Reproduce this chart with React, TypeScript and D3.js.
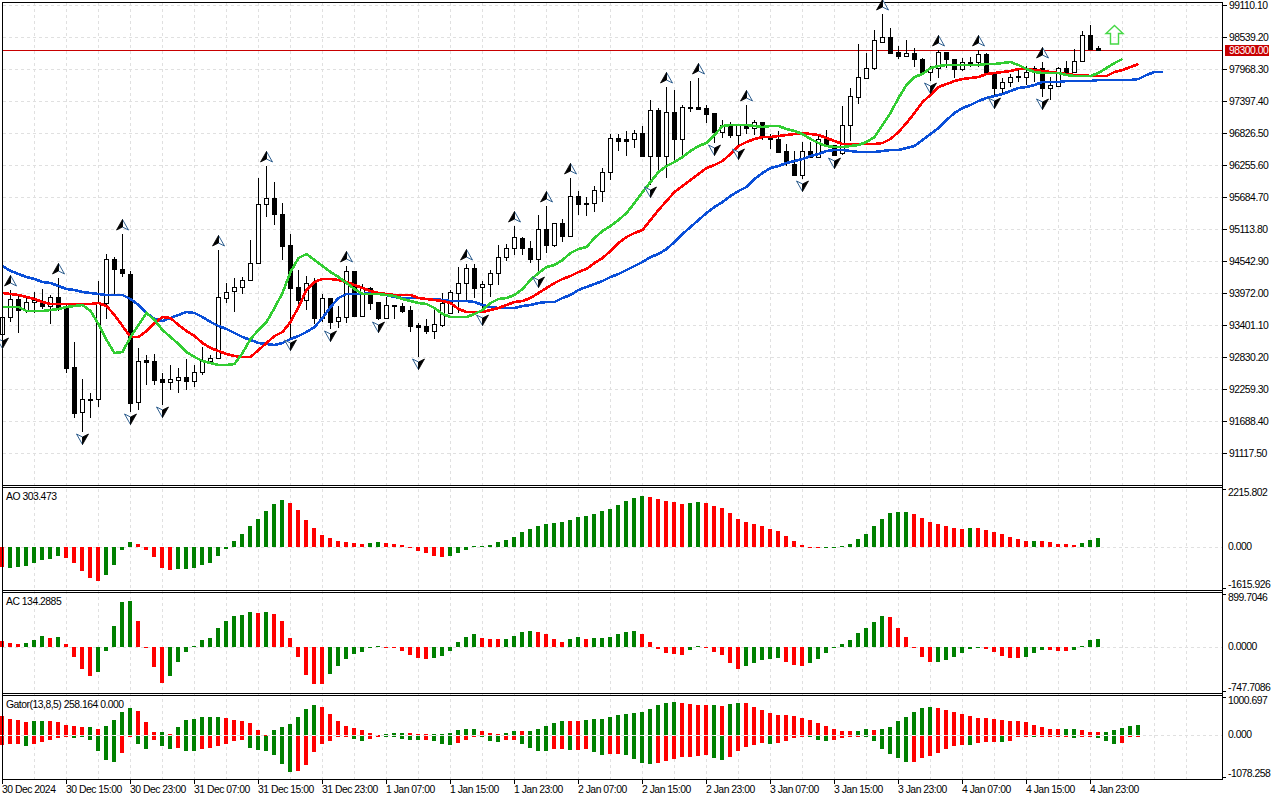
import * as d3 from "d3";

// H1 bars
const opens = [93240,93544,93865,93669,93811,93829,93740,93901,93722,92652,91849,92081,92081,93794,94578,94400,94311,92027,92777,92759,92438,92384,92420,92474,92402,92563,92759,92812,93883,94008,94079,94204,94507,95560,95667,95381,94828,94079,93847,94150,93526,93883,93473,93544,94365,93562,94061,93811,93526,93758,93740,93669,93401,93383,93294,93401,93615,93972,94150,94418,94079,94132,94329,94614,94775,94953,94775,94578,95114,94828,95221,94989,95702,95578,95578,95792,96131,96737,96719,96719,96826,96416,97237,96416,97201,96719,97272,97290,97272,97183,96844,96969,96791,96951,96916,97023,96773,96719,96505,96273,96077,96505,96398,96719,96612,96470,96969,97469,97808,97986,98450,98539,98271,98200,98253,98146,97915,97986,98271,98146,97968,98075,98093,98236,97879,97629,97736,97843,97825,97915,97986,97629,97665,97986,97915,98111,98575,98343];
const closes = [93544,93865,93669,93811,93847,93740,93901,93722,92634,91831,92081,92063,93794,94578,94400,94329,92010,92759,92741,92420,92384,92438,92474,92402,92563,92759,92812,93901,93990,94079,94204,94507,95560,95667,95381,94810,94061,93847,94150,93526,93883,93455,93544,94365,93562,94061,93794,93526,93758,93740,93651,93383,93365,93294,93419,93794,93990,94150,94418,94061,94132,94329,94614,94775,94971,94775,94578,95114,94828,95221,94989,95702,95560,95560,95810,96131,96737,96684,96684,96826,96416,97237,96416,97201,96719,97290,97290,97254,97165,96844,96969,96791,96969,96916,97023,96755,96719,96487,96291,96077,96505,96398,96719,96612,96434,96969,97486,97825,97986,98486,98539,98253,98200,98253,98146,97915,97986,98271,98146,97968,98093,98093,98236,97879,97629,97736,97825,97825,97915,97986,97629,97683,97986,97915,98111,98575,98325,98307];
const highs = [93633,94026,93936,93901,93990,94043,93936,94240,93794,93098,92438,92188,94186,94668,94614,95024,94365,92991,92866,92884,92545,92687,92634,92794,92687,93008,92866,94739,94150,94240,94257,94918,96024,96238,95952,95578,95024,94382,94275,94240,93954,93883,93740,94454,94365,94132,94079,93811,93901,93758,93794,93740,93437,93508,93722,93972,94026,94436,94489,94489,94186,94382,94828,94846,95167,94971,94899,95363,95524,95221,95292,96024,95792,95685,95881,96202,96809,96809,96862,96880,96951,97415,97272,97647,97594,97326,97754,97808,97326,97183,97058,97023,96987,97326,97058,97023,96809,96862,96630,96505,96666,96666,96791,96880,96612,97308,97629,98414,98253,98664,98949,98700,98378,98486,98343,98164,98022,98307,98271,98146,98164,98182,98307,98253,97915,97808,97879,97986,98022,98022,98093,97825,98004,98111,98325,98646,98753,98378];
const lows = [93205,93455,93258,93615,93615,93687,93419,93651,92545,91742,91492,91742,91938,93508,93936,94257,91849,91885,92331,92331,91974,92242,92188,92242,92295,92509,92723,92794,93794,93633,93954,94204,94489,95328,95185,94561,93169,93669,93669,93419,93455,93330,93348,93437,93544,93544,93669,93490,93508,93508,93615,93276,92830,93240,93151,93365,93597,93615,93829,93883,93615,93901,94115,94543,94650,94650,94507,94293,94685,94792,94882,94971,95363,95345,95417,95595,95988,96505,96416,96559,96398,95899,96131,96024,96345,96416,97201,97237,97005,96648,96737,96737,96577,96809,96791,96702,96541,96470,96238,96059,96006,96380,96380,96577,96416,96434,96684,97344,97790,97950,98432,98236,98146,98182,98004,97861,97754,97808,97986,97808,97932,98004,98004,97861,97486,97540,97647,97736,97683,97736,97469,97415,97647,97897,97897,98111,98307,98289];

// Alligator lines, shifted past the last bar
const jaws = [94454,94365,94311,94257,94222,94168,94150,94097,94043,94026,93990,93972,93954,93936,93936,93936,93865,93758,93615,93508,93473,93526,93580,93633,93615,93544,93455,93383,93330,93258,93187,93134,93080,93062,93044,93080,93151,93205,93276,93365,93526,93722,93883,93954,93954,93954,93972,93954,93936,93901,93883,93883,93883,93865,93865,93847,93829,93829,93829,93811,93758,93722,93704,93704,93704,93740,93758,93794,93811,93811,93883,93936,94026,94079,94132,94186,94257,94311,94382,94454,94525,94614,94668,94757,94882,95024,95149,95274,95399,95506,95595,95702,95792,95863,96006,96113,96202,96238,96291,96327,96362,96416,96452,96505,96523,96523,96505,96487,96487,96487,96505,96523,96523,96559,96594,96702,96809,96916,97058,97183,97272,97326,97397,97451,97486,97522,97576,97629,97647,97683,97736,97736,97736,97754,97754,97754,97754,97772,97772,97772,97772,97772,97790,97861,97915,97915];
const teeth = [93972,93954,93936,93901,93865,93811,93776,93776,93776,93776,93776,93776,93794,93740,93580,93383,93187,93187,93294,93437,93544,93526,93401,93294,93205,93080,92991,92937,92884,92848,92830,92830,92955,93080,93205,93276,93455,93722,94026,94168,94222,94222,94204,94168,94115,94061,94008,93972,93954,93936,93936,93936,93883,93865,93847,93829,93794,93687,93633,93633,93633,93669,93704,93758,93811,93829,93883,93972,94061,94150,94222,94275,94347,94400,94507,94596,94721,94864,94971,95042,95096,95274,95453,95613,95774,95881,95988,96095,96202,96255,96327,96452,96594,96666,96719,96755,96755,96773,96791,96809,96826,96809,96791,96737,96684,96630,96630,96630,96630,96630,96648,96719,96844,97005,97183,97379,97504,97647,97700,97754,97790,97808,97825,97879,97897,97915,97932,97968,97968,97950,97932,97915,97897,97879,97861,97861,97843,97843,97843,97915,97950,98004,98057];
const lips = [93722,93722,93722,93651,93651,93651,93669,93687,93722,93740,93758,93651,93419,93134,92901,92919,93187,93401,93615,93490,93312,93187,93062,92919,92830,92759,92723,92687,92687,92705,92901,93151,93312,93455,93704,93972,94347,94596,94668,94561,94454,94347,94257,94150,94043,93954,93954,93954,93936,93918,93865,93829,93794,93776,93704,93597,93544,93544,93544,93597,93669,93794,93865,93883,93936,94043,94204,94329,94436,94471,94561,94685,94757,94792,94953,95078,95167,95274,95399,95578,95774,95952,96131,96238,96309,96398,96505,96594,96648,96791,96951,96969,96969,96969,96951,96933,96951,96951,96898,96862,96809,96719,96648,96594,96577,96577,96594,96612,96666,96755,96969,97183,97451,97683,97825,97879,97986,98022,98039,98039,98039,98039,98039,98057,98057,98075,98093,98039,97968,97915,97897,97897,97897,97861,97843,97843,97843,97897,97986,98075,98146];

// Fractals, by bar
const upFractals = [1,7,15,27,33,43,58,64,68,71,83,87,93,110,117,122,130];
const downFractals = [0,10,16,20,36,41,47,52,60,67,81,89,92,100,104,116,124,130];

const priceTicks = ["99110.10","98539.20","97968.30","97397.40","96826.50","96255.60","95684.70","95113.80","94542.90","93972.00","93401.10","92830.20","92259.30","91688.40","91117.50"];
const timeLabels = ["30 Dec 2024","30 Dec 15:00","30 Dec 23:00","31 Dec 07:00","31 Dec 15:00","31 Dec 23:00","1 Jan 07:00","1 Jan 15:00","1 Jan 23:00","2 Jan 07:00","2 Jan 15:00","2 Jan 23:00","3 Jan 07:00","3 Jan 15:00","3 Jan 23:00","4 Jan 07:00","4 Jan 15:00","4 Jan 23:00"];

const aoValues = [-779,-792,-753,-715,-600,-485,-447,-332,-409,-600,-907,-1175,-1290,-1060,-677,-102,192,128,-102,-370,-792,-868,-830,-830,-792,-677,-600,-332,-64,230,511,817,1085,1392,1660,1813,1698,1430,1047,741,472,358,243,204,166,128,166,204,166,128,77,13,-140,-217,-332,-370,-332,-217,-102,26,38,77,204,281,396,587,702,817,894,932,971,1047,1162,1200,1277,1392,1469,1622,1775,1890,1967,1928,1852,1775,1737,1660,1698,1737,1698,1583,1507,1315,1085,971,894,817,702,626,434,243,77,13,-38,13,13,26,115,319,511,817,1085,1315,1354,1354,1277,1124,971,894,817,741,702,741,741,664,587,511,396,319,243,243,243,204,128,128,89,166,281,358];
const aoRuns: [string, number][] = [["r",1],["g",7],["r",5],["g",4],["r",5],["g",14],["r",10],["g",2],["r",8],["g",25],["r",5],["g",2],["r",15],["g",11],["r",7],["g",1],["r",7],["g",1],["r",5],["g",3]];

const acValues = [105,72,56,72,122,189,155,172,56,-161,-361,-477,-411,-61,355,755,771,438,-11,-327,-594,-477,-244,-78,11,122,155,322,438,522,538,588,572,588,555,438,155,-161,-461,-610,-610,-444,-311,-194,-111,-89,-6,11,-6,-22,-61,-128,-178,-194,-178,-144,-61,89,172,222,155,139,139,139,189,255,272,255,222,139,89,139,172,139,155,155,172,222,255,272,222,89,-28,-94,-111,-128,-44,11,-6,-78,-128,-261,-361,-311,-261,-211,-194,-178,-244,-294,-311,-261,-194,-94,-6,56,122,239,322,422,522,505,322,172,-6,-161,-244,-244,-211,-161,-94,-28,-11,-28,-78,-144,-178,-178,-161,-94,-44,-44,-61,-61,-44,11,122,139];
const acRuns: [string, number][] = [["r",3],["g",3],["r",1],["g",1],["r",4],["g",5],["r",4],["g",11],["r",1],["g",1],["r",7],["g",7],["r",6],["g",6],["r",3],["g",4],["r",4],["g",2],["r",1],["g",6],["r",6],["g",2],["r",5],["g",5],["r",3],["g",10],["r",6],["g",6],["r",5],["g",3],["r",3],["g",4]];

const gatorUp = [478,396,371,322,347,347,347,322,248,223,206,198,149,223,371,569,668,594,322,74,74,25,198,371,396,446,446,446,421,371,347,297,124,8,124,198,272,446,644,743,693,520,347,223,173,124,50,8,25,50,50,50,16,25,25,25,50,124,149,149,99,50,25,50,99,99,99,149,223,297,347,347,347,371,396,396,446,495,520,545,569,644,743,792,817,792,767,743,743,743,718,767,792,792,693,619,545,495,495,470,421,371,297,223,149,99,99,99,149,124,149,198,347,446,569,668,693,668,619,569,520,470,421,421,396,371,347,347,322,248,198,149,149,149,149,124,74,74,74,124,173,223,248];
const gatorUpRuns: [string, number][] = [["r",4],["g",2],["r",5],["g",1],["r",1],["g",4],["r",3],["g",1],["r",1],["g",6],["r",6],["g",6],["r",8],["g",3],["r",3],["g",6],["r",3],["g",2],["r",1],["g",5],["r",2],["g",12],["r",4],["g",1],["r",1],["g",2],["r",14],["g",2],["r",1],["g",7],["r",16],["g",2],["r",3],["g",5]];
const gatorDown = [248,223,223,272,223,173,124,74,50,74,25,124,396,619,668,446,50,223,347,124,272,347,322,396,396,347,322,272,223,149,124,322,371,396,495,718,916,891,743,421,223,149,50,50,99,149,99,8,50,50,99,124,124,124,149,223,248,198,124,50,50,149,173,124,124,223,322,396,396,347,347,371,371,347,421,495,470,470,495,594,693,718,693,644,594,545,545,520,495,569,619,545,396,297,248,198,223,198,149,74,8,50,124,149,124,74,16,25,50,149,347,470,569,668,668,569,520,446,347,272,248,248,198,173,173,173,149,50,50,50,25,16,16,25,74,50,16,74,149,223,198,25,8];
const gatorDownRuns: [string, number][] = [["r",3],["g",1],["r",5],["g",6],["r",2],["g",2],["r",1],["g",2],["r",1],["g",2],["r",6],["g",6],["r",7],["g",2],["r",2],["g",5],["r",1],["g",3],["r",3],["g",3],["r",2],["g",4],["r",2],["g",1],["r",2],["g",2],["r",2],["g",4],["r",7],["g",2],["r",5],["g",1],["r",4],["g",3],["r",4],["g",6],["r",7],["g",1],["r",3],["g",1],["r",3],["g",1],["r",4],["g",1],["r",2],["g",3],["r",3]];

const RED = "#ff0000";
const GREEN = "#008000";
const GRID = "#e0e0e0";
const FONT = "'Liberation Sans', sans-serif";

const expandRuns = (runs: [string, number][]) =>
  runs.flatMap(([c, n]) => Array(n).fill(c === "r" ? RED : GREEN));

const barX = d3.scaleLinear().domain([0, 1]).range([2, 10]);
const priceY = d3.scaleLinear().domain([91117.5, 99110.1]).range([453, 5]);
const aoY = d3.scaleLinear().domain([-1615.926, 2215.802]).range([589.3, 489]);
const acY = d3.scaleLinear().domain([-747.7086, 899.7046]).range([691.9, 593]);
const gatorY = d3.scaleLinear().domain([-1078.258, 1000.697]).range([778.6, 694.6]);

const RIGHT = 1222;
const gridXs = d3.range(1, 38).map((k) => 2 + 32 * k + 0.5);

const priceLine = d3
  .line<number>()
  .x((_, i) => barX(i) + 0.5)
  .y((d) => priceY(d));

const Label = ({ x, y, children, fill = "#000" }: any) => (
  <text x={x} y={y} fontFamily={FONT} fontSize={10.4} letterSpacing={-0.5} fill={fill} dominantBaseline="central">
    {children}
  </text>
);

// fractal dart, black on one side and pale outlined on the other
const Dart = ({ x, y, down }: { x: number; y: number; down?: boolean }) => (
  <g transform={`translate(${x + 0.5},${y}) ${down ? "rotate(180)" : ""}`}>
    <path d="M0,-5.5 L6,5 L0,2 Z" fill="#fff" stroke="#2f5f8f" strokeWidth={1} />
    <path d="M0,-5.5 L-6,5 L0,2 Z" fill="#000" stroke="#000" strokeWidth={0.8} />
  </g>
);

function Histogram({ values, colors, y }: { values: number[]; colors: string[]; y: d3.ScaleLinear<number, number> }) {
  const zero = Math.round(y(0));
  return (
    <g>
      {values.map((v, i) => {
        const top = Math.round(y(v));
        return (
          <rect
            key={i}
            x={barX(i) - 2}
            y={Math.min(top, zero)}
            width={4}
            height={Math.max(Math.abs(top - zero), 1)}
            fill={colors[i]}
          />
        );
      })}
    </g>
  );
}

function SubPane({ top, bottom, ticks, title, titleY, tickYs }: any) {
  return (
    <g>
      <line x1={2} x2={RIGHT} y1={top + 0.5} y2={top + 0.5} stroke="#000" />
      <line x1={2} x2={RIGHT} y1={bottom + 0.5} y2={bottom + 0.5} stroke="#000" />
      <Label x={6} y={titleY}>{title}</Label>
      {ticks.map((t: string, i: number) => (
        <Label key={t} x={1228} y={tickYs[i]}>{t}</Label>
      ))}
      <line x1={RIGHT} x2={1226} y1={top + 2.5} y2={top + 2.5} stroke="#000" />
    </g>
  );
}

export default function App() {
  const aoColors = expandRuns(aoRuns);
  const acColors = expandRuns(acRuns);
  const upColors = expandRuns(gatorUpRuns);
  const downColors = expandRuns(gatorDownRuns);
  const gatorZero = Math.round(gatorY(0));

  return (
    <svg
      width={1280}
      height={800}
      style={{ position: "fixed", left: 0, top: 0, display: "block", background: "#fff" }}
    >
      <g shapeRendering="crispEdges">
        {/* grid */}
        {gridXs.map((x) => (
          <line key={x} x1={x} x2={x} y1={3} y2={779} stroke={GRID} strokeDasharray="3 3" />
        ))}
        {priceTicks.map((t) => (
          <line key={t} x1={3} x2={RIGHT} y1={Math.round(priceY(+t)) + 0.5} y2={Math.round(priceY(+t)) + 0.5} stroke={GRID} strokeDasharray="3 3" />
        ))}
        {[aoY, acY].map((s, i) => (
          <line key={i} x1={3} x2={RIGHT} y1={Math.round(s(0)) + 0.5} y2={Math.round(s(0)) + 0.5} stroke={GRID} strokeDasharray="3 3" />
        ))}

        <line x1={2} x2={RIGHT} y1={Math.round(priceY(98300)) + 0.5} y2={Math.round(priceY(98300)) + 0.5} stroke="#c80000" />

        {/* candles */}
        {opens.map((o, i) => {
          const c = closes[i];
          const x = barX(i);
          const top = Math.round(priceY(Math.max(o, c)));
          const bot = Math.round(priceY(Math.min(o, c)));
          const up = c >= o;
          return (
            <g key={i}>
              <line x1={x + 0.5} x2={x + 0.5} y1={Math.round(priceY(highs[i]))} y2={Math.round(priceY(lows[i]))} stroke="#000" />
              <rect
                x={x - 1.5}
                y={top + 0.5}
                width={4}
                height={Math.max(bot - top, 1)}
                fill={up ? "#fff" : "#000"}
                stroke="#000"
              />
            </g>
          );
        })}

        {/* alligator */}
        <path d={priceLine(jaws)!} fill="none" stroke="#0a4fd8" strokeWidth={2.6} />
        <path d={priceLine(teeth)!} fill="none" stroke="#ff0000" strokeWidth={2.6} />
        <path d={priceLine(lips)!} fill="none" stroke="#32cd32" strokeWidth={2.6} />

        {/* indicator panes */}
        <Histogram values={aoValues} colors={aoColors} y={aoY} />
        <Histogram values={acValues} colors={acColors} y={acY} />
        {gatorUp.map((v, i) => (
          <rect key={i} x={barX(i) - 2} y={Math.round(gatorY(v))} width={4} height={Math.max(gatorZero - Math.round(gatorY(v)), 1)} fill={upColors[i]} />
        ))}
        {gatorDown.map((v, i) => (
          <rect key={i} x={barX(i) - 2} y={gatorZero + 1} width={4} height={Math.max(Math.round(gatorY(-v)) - gatorZero - 1, 1)} fill={downColors[i]} />
        ))}
        <line x1={3} x2={RIGHT} y1={gatorZero + 0.5} y2={gatorZero + 0.5} stroke={GRID} strokeDasharray="3 3" />

        {/* frame */}
        <line x1={2} x2={RIGHT} y1={2.5} y2={2.5} stroke="#000" />
        <line x1={2.5} x2={2.5} y1={2} y2={779} stroke="#000" />
        <line x1={RIGHT + 0.5} x2={RIGHT + 0.5} y1={2} y2={780} stroke="#000" />
        <line x1={2} x2={RIGHT} y1={485.5} y2={485.5} stroke="#000" />
        <line x1={2} x2={RIGHT} y1={779.5} y2={779.5} stroke="#000" />

        {/* price axis ticks */}
        {priceTicks.map((t) => (
          <line key={t} x1={RIGHT} x2={1227} y1={Math.round(priceY(+t)) + 0.5} y2={Math.round(priceY(+t)) + 0.5} stroke="#000" />
        ))}
        {timeLabels.map((t, i) => (
          <line key={t} x1={barX(i * 8) + 0.5} x2={barX(i * 8) + 0.5} y1={779} y2={784} stroke="#000" />
        ))}

        <SubPane top={487} bottom={590} title="AO 303.473" titleY={496} ticks={["2215.802", "0.000", "-1615.926"]} tickYs={[492, 546, 584]} />
        <SubPane top={592} bottom={693} title="AC 134.2885" titleY={601} ticks={["899.7046", "0.0000", "-747.7086"]} tickYs={[597, 646, 687]} />
        <SubPane top={695} bottom={779} title="Gator(13,8,5) 258.164 0.000" titleY={704} ticks={["1000.697", "0.000", "-1078.258"]} tickYs={[700, 734, 773]} />
        <line x1={RIGHT} x2={1226} y1={588.5} y2={588.5} stroke="#000" />
        <line x1={RIGHT} x2={1226} y1={691.5} y2={691.5} stroke="#000" />
        <line x1={RIGHT} x2={1226} y1={777.5} y2={777.5} stroke="#000" />
      </g>

      {/* fractals */}
      {upFractals.map((i) => (
        <Dart key={i} x={barX(i)} y={priceY(highs[i]) - 9} />
      ))}
      {downFractals.map((i) => (
        <Dart key={i} x={barX(i)} y={priceY(lows[i]) + 7} down />
      ))}

      {/* signal arrow */}
      <path
        d="M1114.5,25.5 L1123,33.5 L1118.5,33.5 L1118.5,44 L1110.5,44 L1110.5,33.5 L1106,33.5 Z"
        fill="none"
        stroke="#46d846"
        strokeWidth={1.4}
      />

      {priceTicks.map((t) => (
        <Label key={t} x={1229} y={priceY(+t) + 0.5}>{t}</Label>
      ))}
      <rect x={1225} y={45} width={44} height={11} fill="#c80000" shapeRendering="crispEdges" />
      <Label x={1229} y={50.5} fill="#fff">98300.00</Label>
      {timeLabels.map((t, i) => (
        <Label key={t} x={barX(i * 8)} y={789}>{t}</Label>
      ))}
    </svg>
  );
}
